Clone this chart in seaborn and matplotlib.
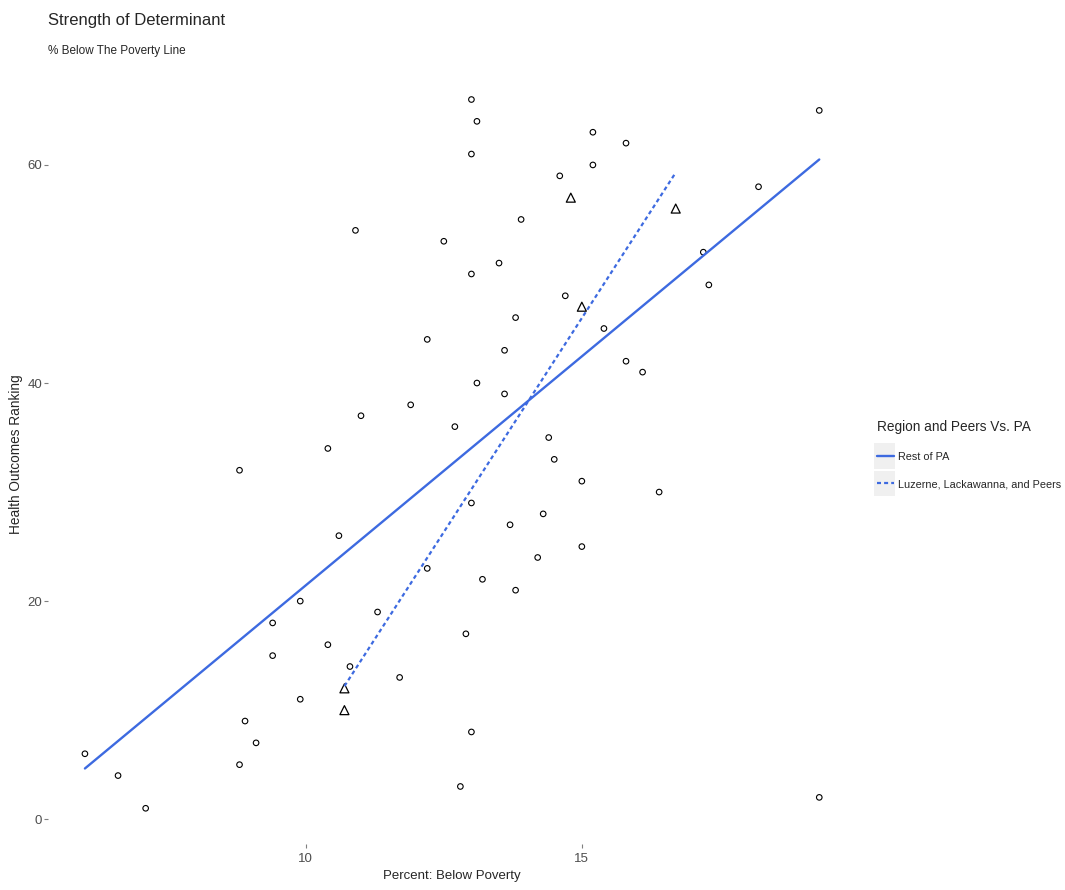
import numpy as np
import matplotlib
matplotlib.use("Agg")
import matplotlib.pyplot as plt
import seaborn as sns
from matplotlib.lines import Line2D
from matplotlib.patches import Rectangle
from matplotlib.legend_handler import HandlerLine2D

# --- datos ---
rest_pobreza = [6.0, 6.6, 7.1, 8.8, 8.8, 8.9, 9.1, 9.4, 9.4, 9.9, 9.9, 10.4, 10.4, 10.6,
                10.8, 10.9, 11.0, 11.3, 11.7, 11.9, 12.2, 12.2, 12.5, 12.7, 12.8, 12.9,
                13.0, 13.0, 13.0, 13.0, 13.0, 13.1, 13.1, 13.2, 13.5, 13.6, 13.6, 13.7,
                13.8, 13.8, 13.9, 14.2, 14.3, 14.4, 14.5, 14.6, 14.7, 15.0, 15.0, 15.2,
                15.2, 15.4, 15.8, 15.8, 16.1, 16.4, 17.2, 17.3, 18.2, 19.3, 19.3]
rest_ranking = [6, 4, 1, 32, 5, 9, 7, 18, 15, 20, 11, 34, 16, 26,
                14, 54, 37, 19, 13, 38, 44, 23, 53, 36, 3, 17,
                66, 61, 50, 29, 8, 64, 40, 22, 51, 43, 39, 27,
                46, 21, 55, 24, 28, 35, 33, 59, 48, 31, 25, 63,
                60, 45, 62, 42, 41, 30, 52, 49, 58, 65, 2]

peers_pobreza = [10.7, 10.7, 14.8, 15.0, 16.7]
peers_ranking = [12, 10, 57, 47, 56]

# extremos de las rectas de tendencia
tend_rest_x = [6.0, 19.3]
tend_rest_y = [4.65, 60.5]
tend_peers_x = [10.7, 16.7]
tend_peers_y = [12.2, 59.3]

grupos = ["Rest of PA", "Luzerne, Lackawanna, and Peers"]
azul = "#3d6ae0"
guion = (0, (1.8, 1.4))

sns.set_style("white")
plt.rcParams["font.family"] = ["Liberation Sans", "DejaVu Sans"]

fig = plt.figure(figsize=(10.65, 8.9), dpi=100)
ax = fig.add_axes([0.045, 0.052, 0.759, 0.876])

# puntos
sns.scatterplot(x=rest_pobreza, y=rest_ranking, ax=ax, marker="o", s=16,
                color="black", facecolors="none", edgecolor="black", linewidth=0.8)
sns.scatterplot(x=peers_pobreza, y=peers_ranking, ax=ax, marker="^", s=42,
                color="black", facecolors="none", edgecolor="black", linewidth=0.9)

# rectas de tendencia
sns.lineplot(x=tend_rest_x, y=tend_rest_y, ax=ax, color=azul, lw=1.7, ls="-")
sns.lineplot(x=tend_peers_x, y=tend_peers_y, ax=ax, color=azul, lw=1.6, ls=guion)

ax.set_xlim(5.33, 19.97)
ax.set_ylim(-2.25, 69.25)
ax.set_xticks([10, 15])
ax.set_yticks([0, 20, 40, 60])
sns.despine(ax=ax, left=True, bottom=True)
ax.tick_params(axis="both", which="both", length=3, width=0.8, color="#7f7f7f",
               labelcolor="#4d4d4d", labelsize=9.5, left=True, bottom=True)
ax.tick_params(axis="y", pad=1.2)
ax.set_xlabel("Percent: Below Poverty", fontsize=9.5, labelpad=4)
ax.set_ylabel("Health Outcomes Ranking", fontsize=9.8)
ax.yaxis.set_label_coords(-0.031, 0.5)

fig.text(0.045, 0.972, "Strength of Determinant", fontsize=12, va="baseline")
fig.text(0.045, 0.939, "% Below The Poverty Line", fontsize=8.5, va="baseline")


class HandlerFondo(HandlerLine2D):
    def create_artists(self, legend, orig_handle, xdescent, ydescent, width, height,
                       fontsize, trans):
        fondo = Rectangle((-xdescent - 2, -ydescent - 6.5), width + 3, height + 13,
                          facecolor="#f0f0f0", edgecolor="none", transform=trans)
        arts = super().create_artists(legend, orig_handle, xdescent, ydescent, width,
                                      height, fontsize, trans)
        return [fondo] + arts


handles = [Line2D([], [], color=azul, lw=1.7, ls="-"),
           Line2D([], [], color=azul, lw=1.6, ls=guion)]
leg = fig.legend(handles, grupos, title="Region and Peers Vs. PA",
                 loc="upper left", bbox_to_anchor=(0.814, 0.539), frameon=False,
                 fontsize=7.8, title_fontsize=9.8, handlelength=1.6, handletextpad=0.4,
                 labelspacing=1.62, alignment="left",
                 handler_map={Line2D: HandlerFondo()})

fig.savefig("out.png", dpi=100, facecolor="white")
